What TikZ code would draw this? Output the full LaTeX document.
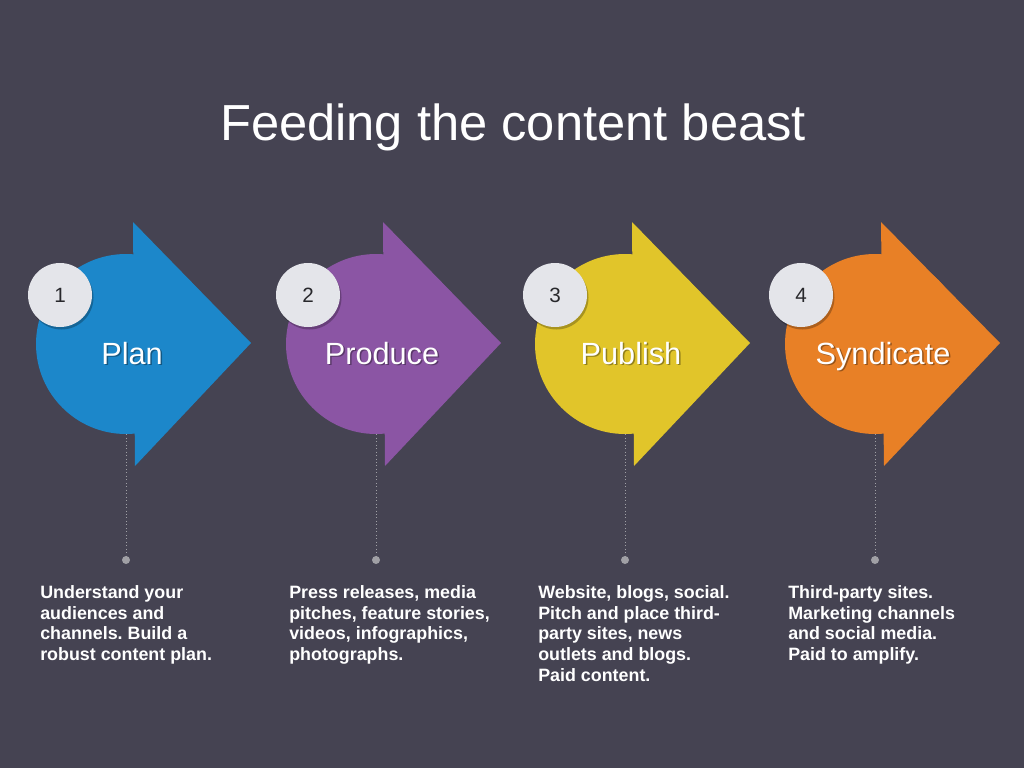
\documentclass[tikz,border=0pt]{standalone}
\usepackage{fontspec}
\setmainfont{Liberation Sans}
\frenchspacing
\definecolor{bg}{RGB}{69,67,82}
\definecolor{cblue}{RGB}{28,135,202}
\definecolor{cpurple}{RGB}{139,85,164}
\definecolor{cyellow}{RGB}{225,197,42}
\definecolor{corange}{RGB}{232,128,38}
\definecolor{numfill}{RGB}{228,229,234}
\definecolor{numtext}{RGB}{40,40,44}
\definecolor{dotgray}{RGB}{160,160,165}
\tikzset{
  arrowcirc/.style={circle, minimum size=135pt, inner sep=0pt},
  numcirc/.style={circle, fill=numfill, minimum size=48pt, inner sep=0pt, text=numtext, font=\fontsize{15.5pt}{18pt}\selectfont},
  numshadow/.style={fill=black, opacity=0.25},
  lbl/.style={text=white, font=\fontsize{23pt}{27pt}\selectfont, anchor=base, inner sep=0pt},
  lblshadow/.style={text=black, opacity=0.35, font=\fontsize{23pt}{27pt}\selectfont, anchor=base, inner sep=0pt},
  desc/.style={text=white, align=left, anchor=north west, inner sep=0pt, font=\fontsize{13.4pt}{15.6pt}\selectfont\bfseries},
  guide/.style={draw=dotgray, line width=0.6pt, dotted},
  enddot/.style={circle, fill=dotgray, minimum size=6pt, inner sep=0pt},
}
\begin{document}
\begin{tikzpicture}[x=0.75pt, y=-0.75pt]
\fill[bg] (0,0) rectangle (1024,768);
\useasboundingbox (0,0) rectangle (1024,768);

\node[text=white, anchor=base, inner sep=0pt, font=\fontsize{38pt}{44pt}\selectfont] (title) at (513,140) {Feeding the content beast};

% ---------- 1 Plan ----------
\node[arrowcirc, fill=cblue] (a1) at (126,344) {};
\fill[cblue] (133,222) -- (251,343) -- (135,466) -- cycle;
\node[lblshadow] at (133.5,365.5) {Plan};
\node[lbl] (l1) at (132,364) {Plan};
\fill[numshadow] (61.5,297.5) circle (24pt);
\node[numcirc] (n1) at (60,295) {1};
\node[enddot] (d1) at (126,560) {};
\draw[guide] (a1.south) -- (d1);
\node[desc] (t1) at (40,585) {Understand your\\audiences and\\channels. Build a\\robust content plan.};

% ---------- 2 Produce ----------
\node[arrowcirc, fill=cpurple] (a2) at (376,344) {};
\fill[cpurple] (383,222) -- (501,343) -- (385,466) -- cycle;
\node[lblshadow] at (383.5,365.5) {Produce};
\node[lbl] (l2) at (382,364) {Produce};
\fill[numshadow] (309.5,297.5) circle (24pt);
\node[numcirc] (n2) at (308,295) {2};
\node[enddot] (d2) at (376,560) {};
\draw[guide] (a2.south) -- (d2);
\node[desc] (t2) at (289,585) {Press releases, media\\pitches, feature stories,\\videos, infographics,\\photographs.};

% ---------- 3 Publish ----------
\node[arrowcirc, fill=cyellow] (a3) at (625,344) {};
\fill[cyellow] (632,222) -- (750,343) -- (634,466) -- cycle;
\node[lblshadow] at (632.5,365.5) {Publish};
\node[lbl] (l3) at (631,364) {Publish};
\fill[numshadow] (556.5,297.5) circle (24pt);
\node[numcirc] (n3) at (555,295) {3};
\node[enddot] (d3) at (625,560) {};
\draw[guide] (a3.south) -- (d3);
\node[desc] (t3) at (538,585) {Website, blogs, social.\\Pitch and place third-\\party sites, news\\outlets and blogs.\\Paid content.};

% ---------- 4 Syndicate ----------
\node[arrowcirc, fill=corange] (a4) at (875,344) {};
\fill[corange] (881,222) -- (1000,343) -- (884,466) -- cycle;
\node[lblshadow] at (884.5,365.5) {Syndicate};
\node[lbl] (l4) at (883,364) {Syndicate};
\fill[numshadow] (802.5,297.5) circle (24pt);
\node[numcirc] (n4) at (801,295) {4};
\node[enddot] (d4) at (875,560) {};
\draw[guide] (a4.south) -- (d4);
\node[desc] (t4) at (788,585) {Third-party sites.\\Marketing channels\\and social media.\\Paid to amplify.};
\end{tikzpicture}
\end{document}
